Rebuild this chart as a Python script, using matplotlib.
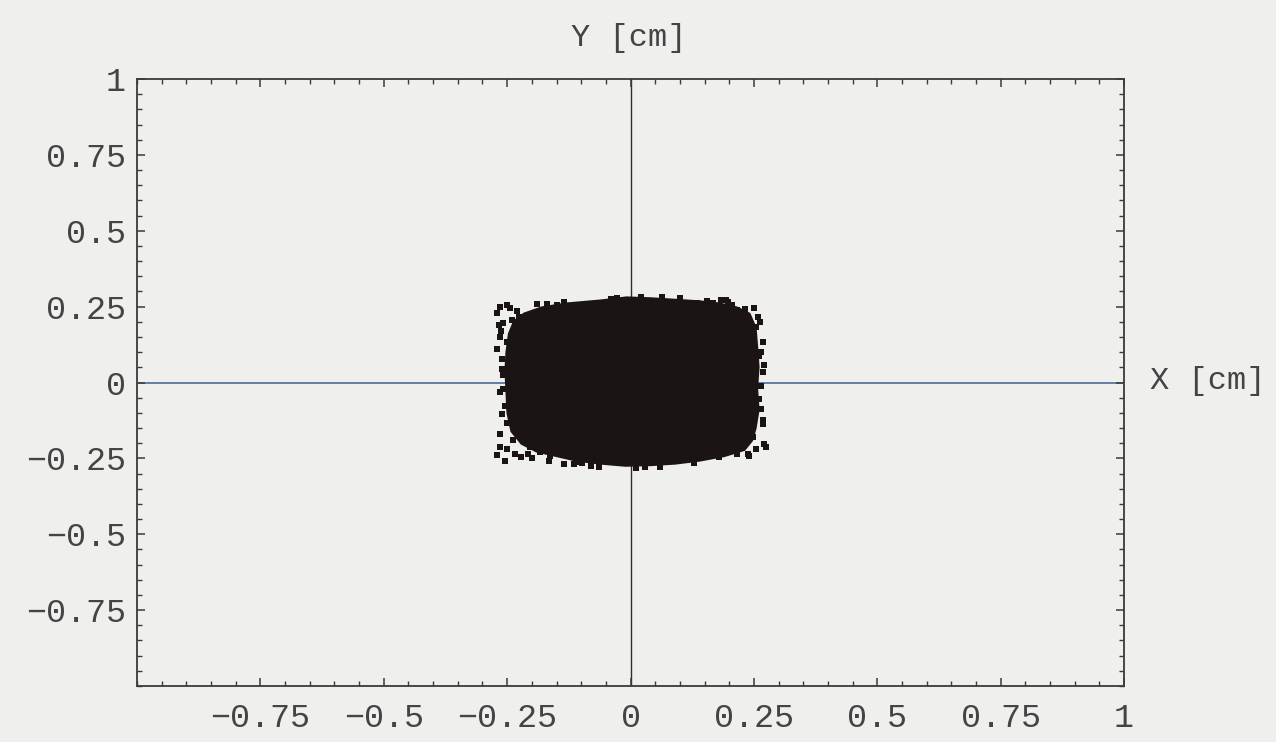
import numpy as np
import matplotlib
matplotlib.use("Agg")
import matplotlib.pyplot as plt
from matplotlib.ticker import FixedLocator, MultipleLocator

# dense core of the beam spot (outline), in cm
core_x = [-0.215, -0.180, -0.130, -0.060, -0.008, 0.043, 0.093, 0.140, 0.180, 0.215, 0.240,
          0.252, 0.255, 0.258, 0.255, 0.258, 0.252, 0.245, 0.230,
          0.190, 0.140, 0.090, 0.040, -0.010, -0.060, -0.110, -0.150, -0.190, -0.220,
          -0.240, -0.248, -0.250, -0.252, -0.250, -0.245, -0.235]
core_y = [0.225, 0.245, 0.258, 0.268, 0.278, 0.275, 0.270, 0.265, 0.258, 0.245, 0.225,
          0.180, 0.120, 0.050, -0.020, -0.090, -0.150, -0.190, -0.220,
          -0.240, -0.255, -0.265, -0.270, -0.272, -0.265, -0.255, -0.240, -0.225, -0.200,
          -0.160, -0.100, -0.030, 0.040, 0.100, 0.160, 0.200]

# scattered points around the edge of the spot, in cm
edge_x = [-0.265, -0.251, -0.190, -0.170, -0.134, -0.099, 0.184, 0.198, 0.231, 0.259,
          0.269, 0.271, 0.265, 0.269, 0.271, 0.239, -0.261, -0.265, -0.255, -0.235,
          -0.200, -0.166, -0.134, -0.099, -0.267, -0.271, -0.261, -0.265, -0.150, -0.259,
          -0.241, -0.225, -0.265, -0.251, -0.261, -0.259, -0.211, 0.194, 0.215, 0.235,
          0.255, 0.261, 0.269, 0.229, 0.168, 0.134, 0.063, -0.259, -0.255, -0.251,
          -0.265, -0.239, -0.204, -0.184, -0.164, -0.103, -0.063, 0.012, 0.059, 0.128,
          0.180, 0.241, 0.249, 0.269, 0.261, 0.275, 0.215, -0.028, 0.022,
          -0.245, -0.230, -0.270, 0.250, 0.262, 0.255, -0.250, -0.222, -0.270, -0.040,
          0.100, 0.155, -0.115, 0.264, -0.262, 0.206, -0.208, -0.080, 0.030, 0.265]
edge_y = [0.250, 0.257, 0.260, 0.260, 0.266, 0.250, 0.273, 0.266, 0.243, 0.217,
          0.135, 0.059, -0.086, -0.138, -0.204, -0.237, -0.105, -0.171, -0.260, -0.237,
          -0.250, -0.260, -0.270, -0.266, 0.191, 0.112, 0.046, -0.030, 0.257, 0.197,
          0.207, 0.217, 0.151, 0.132, 0.076, 0.026, 0.184, 0.273, 0.240, 0.217,
          0.184, 0.086, 0.033, 0.207, 0.263, 0.263, 0.283, -0.023, -0.079, -0.132,
          -0.211, -0.188, -0.211, -0.230, -0.243, -0.263, -0.280, -0.283, -0.280, -0.266,
          -0.247, -0.243, -0.178, -0.122, -0.056, -0.211, -0.234, 0.280, 0.283,
          0.245, 0.235, 0.230, 0.245, 0.200, -0.220, -0.220, -0.245, -0.240, 0.276,
          0.278, 0.270, -0.268, -0.010, 0.170, 0.255, -0.236, -0.275, -0.278, 0.100]

tick_vals = [-0.75, -0.5, -0.25, 0, 0.25, 0.5, 0.75, 1]
tick_text = ["\u22120.75", "\u22120.5", "\u22120.25", "0", "0.25", "0.5", "0.75", "1"]

bg = "#efefed"
ink = "#1b1414"
frame = "#3a3a3a"

plt.rcParams["font.family"] = ["Liberation Mono", "DejaVu Sans Mono"]

fig = plt.figure(figsize=(12.76, 7.42), dpi=100, facecolor=bg)
ax = fig.add_axes([0.1074, 0.0755, 0.7735, 0.818], facecolor=bg)

# axes through the origin
ax.axhline(0, color="#4d6a96", lw=1.2, zorder=1)
ax.axvline(0, color="#2e2e2e", lw=1.0, zorder=1)

ax.fill(core_x, core_y, color=ink, lw=2.5, ec=ink, zorder=2)
ax.plot(edge_x, edge_y, "s", color=ink, ms=4.2, mew=0, zorder=3)

ax.set_xlim(-1, 1)
ax.set_ylim(-1, 1)

for axis in (ax.xaxis, ax.yaxis):
    axis.set_major_locator(FixedLocator(tick_vals))
    axis.set_minor_locator(MultipleLocator(0.05))
ax.set_xticklabels(tick_text)
ax.set_yticklabels(tick_text)

ax.tick_params(which="both", direction="in", top=True, right=True,
               color=frame, labelcolor="#444444", labelsize=24)
ax.tick_params(which="major", length=6, width=1.1)
ax.tick_params(which="minor", length=3.5, width=1.0)
ax.tick_params(axis="x", pad=12)
ax.tick_params(axis="y", pad=8)

for s in ax.spines.values():
    s.set_color(frame)
    s.set_linewidth(1.3)

fig.text(629 / 1276, 1 - 38 / 742, "Y [cm]", ha="center", va="center",
         fontsize=23, color="#444444")
fig.text(1150 / 1276, 1 - 381 / 742, "X [cm]", ha="left", va="center",
         fontsize=23, color="#444444")

plt.savefig("out.png", dpi=100, facecolor=bg)
